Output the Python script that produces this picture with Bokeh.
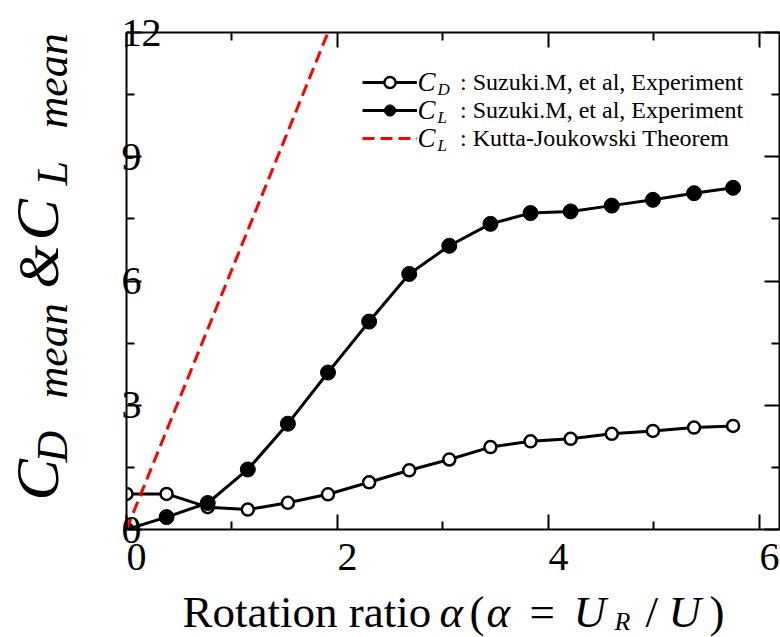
from bokeh.embed import file_html
from bokeh.layouts import column
from bokeh.models import (ColumnDataSource, CustomJSTickFormatter, FixedTicker, Label,
                          LabelSet, Legend, LegendItem, LinearAxis, Range1d)
from bokeh.plotting import figure
from bokeh.resources import INLINE

# Rotation ratio and measured mean force coefficients
alpha = [0.0, 0.38, 0.77, 1.15, 1.53, 1.91, 2.30, 2.68, 3.06, 3.45, 3.83, 4.21, 4.60, 4.99, 5.38, 5.75]
cd_exp = [0.86, 0.86, 0.54, 0.48, 0.645, 0.85, 1.14, 1.43, 1.69, 1.99, 2.13, 2.19, 2.31, 2.38, 2.46, 2.50]
cl_exp = [0.0, 0.30, 0.64, 1.45, 2.555, 3.79, 5.02, 6.17, 6.85, 7.38, 7.64, 7.68, 7.82, 7.96, 8.12, 8.25]

# Kutta-Joukowski lift line (end points)
kj_alpha = [0.0, 1.91]
kj_cl = [0.0, 12.0]

x_ticks = [0, 2, 4, 6]
x_minor = [1, 3, 5]
x_tick_labels = ["0", "2", "4", "6"]
y_ticks = [0, 3, 6, 9, 12]
y_minor = [1.5, 4.5, 7.5, 10.5]
y_tick_labels = ["0", "3", "6", "9", "12"]

SERIF = "Liberation Serif"
W, H = 780, 637
LEFT, RIGHT, TOP, BOTTOM = 126, 1, 32, 108
X0, X1 = 0.0, 6.19
Y0, Y1 = 0.0, 12.0
MID = 0.3375  # baseline distance below the em-box middle, in em

# ---------------------------------------------------------------- data plot
p = figure(width=W, height=H, x_range=Range1d(X0, X1), y_range=Range1d(Y0, Y1),
           x_axis_type=None, y_axis_type=None,
           output_backend="svg", toolbar_location=None,
           min_border_left=LEFT, min_border_right=RIGHT,
           min_border_top=TOP, min_border_bottom=BOTTOM)
p.outline_line_color = None
p.background_fill_color = "white"
p.border_fill_color = "white"


def framed_axis(ticks, minor):
    ax = LinearAxis(ticker=FixedTicker(ticks=ticks, minor_ticks=minor),
                    formatter=CustomJSTickFormatter(code="return ''"))
    ax.axis_line_width = 2
    ax.axis_line_color = "black"
    ax.major_tick_in = 15
    ax.major_tick_out = 0
    ax.minor_tick_in = 8
    ax.minor_tick_out = 0
    ax.major_tick_line_width = 2
    ax.minor_tick_line_width = 2
    ax.major_label_standoff = 0
    ax.major_label_text_font_size = "1px"
    return ax


p.add_layout(framed_axis(x_ticks, x_minor), "below")
p.add_layout(framed_axis(x_ticks, x_minor), "above")
p.add_layout(framed_axis(y_ticks, y_minor), "left")
p.add_layout(framed_axis(y_ticks, y_minor), "right")

src = ColumnDataSource(dict(alpha=alpha, cd=cd_exp, cl=cl_exp))
cd_line = p.line("alpha", "cd", source=src, line_color="black", line_width=3)
cd_pts = p.scatter("alpha", "cd", source=src, marker="circle", size=12,
                   fill_color="white", line_color="black", line_width=2.5)
cl_line = p.line("alpha", "cl", source=src, line_color="black", line_width=3)
cl_pts = p.scatter("alpha", "cl", source=src, marker="circle", size=15,
                   fill_color="black", line_color="black")
kj_line = p.line(kj_alpha, kj_cl, line_color="red", line_width=3, line_dash="12 6")

legend = Legend(items=[
    LegendItem(label=": Suzuki.M, et al, Experiment", renderers=[cd_line, cd_pts]),
    LegendItem(label=": Suzuki.M, et al, Experiment", renderers=[cl_line, cl_pts]),
    LegendItem(label=": Kutta-Joukowski Theorem", renderers=[kj_line]),
], location=(236, 377), orientation="vertical",
    glyph_width=55, glyph_height=28, spacing=0, padding=0, margin=0,
    label_standoff=43, label_text_font=SERIF, label_text_font_size="24px",
    label_text_color="black", border_line_color=None, background_fill_alpha=0)
p.add_layout(legend)

# ------------------------------------------------ text layers over the plot
# Two transparent figures on the plot's data scale, laid over it and spanning
# the whole page height, so that labels in the margins are not clipped: one
# shifted left to cover the left margin, one aligned with the plot frame.
fw, fh = W - LEFT - RIGHT, H - TOP - BOTTOM
sx = (X1 - X0) / fw
sy = (Y1 - Y0) / fh


def text_layer(shift):
    f = figure(width=W, height=H,
               x_range=Range1d(X0 - shift * sx, X1 - shift * sx),
               y_range=Range1d(Y0 - BOTTOM * sy, Y1 + TOP * sy),
               x_axis_type=None, y_axis_type=None,
               output_backend="svg", toolbar_location=None,
               min_border_left=LEFT, min_border_right=RIGHT,
               min_border_top=0, min_border_bottom=0,
               styles={"position": "absolute", "top": "0px", "left": f"{-shift}px"})
    f.outline_line_color = None
    f.background_fill_alpha = 0
    f.border_fill_alpha = 0
    return f


t_left = text_layer(LEFT)   # frame covers page x 0 .. W-LEFT-RIGHT
t_main = text_layer(0)      # frame covers page x LEFT .. W-RIGHT


def page_label(layer, page_x0, text, cx, cy, size, italic=False, angle=0):
    """Label whose baseline starts at page pixel (cx, cy)."""
    if angle == 90:
        ax, ay = cx - MID * size, cy
    else:
        ax, ay = cx, cy - MID * size
    layer.add_layout(Label(x=ax - page_x0, y=H - ay, x_units="screen", y_units="screen",
                           text=text, text_font=SERIF, text_font_size=f"{size}px",
                           text_font_style="italic" if italic else "normal",
                           angle=angle, angle_units="deg", text_align="left",
                           text_baseline="middle", text_color="black"))


# tick labels, left-aligned on their ticks
xl = ColumnDataSource(dict(x=x_ticks, y=[Y0] * len(x_ticks), t=x_tick_labels))
t_main.add_layout(LabelSet(x="x", y="y", text="t", source=xl, x_offset=0, y_offset=-40,
                           text_align="left", text_baseline="alphabetic",
                           text_font=SERIF, text_font_size="40px", text_color="black"))
yl = ColumnDataSource(dict(x=[X0] * len(y_ticks), y=y_ticks, t=y_tick_labels))
t_left.add_layout(LabelSet(x="x", y="y", text="t", source=yl, x_offset=-5, y_offset=0,
                           text_align="left", text_baseline="middle",
                           text_font=SERIF, text_font_size="40px", text_color="black"))

# coefficient symbols in the legend rows
for i, sub in enumerate(["D", "L", "L"]):
    cy = 82 + 28 * i
    page_label(t_main, LEFT, "C", 417, cy + 9, 27, italic=True)
    page_label(t_main, LEFT, sub, 437, cy + 13, 17, italic=True)

# x-axis title
XB = 627
for text, cx, size, italic, base in [
    ("Rotation ratio", 182, 45, False, XB),
    ("α", 439, 45, True, XB),
    ("(", 469, 45, False, XB),
    ("α", 486, 45, True, XB),
    ("=", 529, 45, False, XB),
    ("U", 573, 45, True, XB),
    ("R", 614, 26, True, 630),
    ("/", 645, 45, False, XB),
    ("U", 668, 45, True, XB),
    (")", 709, 45, False, XB),
]:
    page_label(t_main, LEFT, text, cx, base, size, italic=italic)

# y-axis title, rotated to read upwards; each piece starts at its lower end
for text, size, base_x, start_y in [
    ("C", 62, 57, 500),
    ("D", 44, 67, 462),
    ("mean", 44, 67, 398),
    ("&", 56, 57, 288),
    ("C", 62, 57, 240),
    ("L", 44, 67, 185),
    ("mean", 44, 67, 128),
]:
    page_label(t_left, 0, text, base_x, start_y, size, italic=True, angle=90)

open("out.html", "w").write(file_html(column(p, t_left, t_main), INLINE))
